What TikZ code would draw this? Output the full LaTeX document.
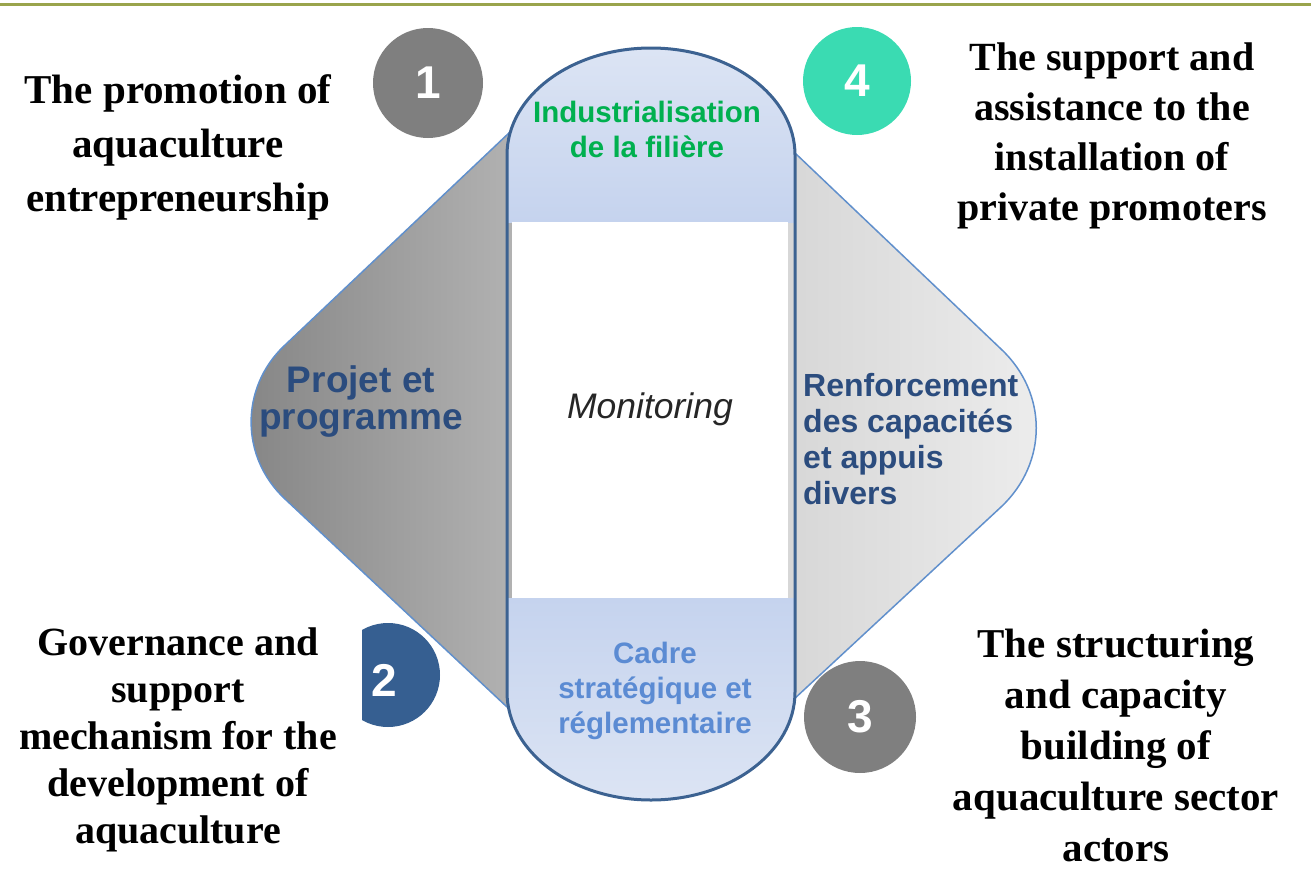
\documentclass[tikz,border=0pt]{standalone}
\usepackage{fontspec}
\setmainfont{Liberation Serif}
\newfontfamily\arialf{Liberation Sans}
\definecolor{olive}{HTML}{9AA44C}
\definecolor{numgrey}{HTML}{7F7F7F}
\definecolor{numteal}{HTML}{3ADBB2}
\definecolor{numblue}{HTML}{365F91}
\definecolor{wingline}{HTML}{6190CC}
\definecolor{capline}{HTML}{3C6291}
\definecolor{capA}{HTML}{DDE5F4}
\definecolor{capB}{HTML}{C5D3EE}
\definecolor{txtblue}{HTML}{2B4C7E}
\definecolor{txtgreen}{HTML}{00B04F}
\definecolor{txtcadre}{HTML}{5B8BD3}
\tikzset{
  numcircle/.style={circle, minimum size=#1, inner sep=0pt},
  numtext/.style={font=\arialf\bfseries\fontsize{46}{46}\selectfont, text=white},
  sertext/.style={font=\bfseries\fontsize{41}{#1}\selectfont, align=center, inner sep=0pt, anchor=base},
  wingtext/.style={font=\arialf\bfseries\fontsize{#1}{36}\selectfont, text=txtblue, inner sep=0pt, anchor=base},
  captext/.style={font=\arialf\bfseries\fontsize{29.5}{35}\selectfont, align=center, inner sep=0pt, anchor=base},
}
\begin{document}
\begin{tikzpicture}[x=1pt,y=-1pt]
\useasboundingbox (0,0) rectangle (1311,886);
% top rule
\draw[olive, line width=3pt] (0,4) -- (1311,4);
% circles
\node[numcircle=110pt, fill=numgrey] (c1) at (428,83) {};
\node[numcircle=108pt, fill=numteal] (c4) at (857,81) {};
\begin{scope}
  \clip (362,600) rectangle (460,760);
  \node[numcircle=104pt, fill=numblue] (c2) at (388,675) {};
\end{scope}
\node[numcircle=112pt, fill=numgrey] (c3) at (860,717) {};
\node[numtext] (n1) at (c1) {1};
\node[numtext] (n4) at (c4) {4};
\node[numtext] (n2) at (384,680) {2};
\node[numtext] (n3) at (c3) {3};
% left wing
\shade[left color={rgb,255:red,133;green,133;blue,133}, right color={rgb,255:red,185;green,185;blue,185}]
  (510,132) -- (284,346) .. controls (240,388) and (240,457) .. (285,499) -- (507,707) -- (560,707) -- (560,132) -- cycle;
\draw[wingline, line width=1.5pt]
  (510,132) -- (284,346) .. controls (240,388) and (240,457) .. (285,499) -- (507,707);
% right wing
\shade[left color={rgb,255:red,211;green,211;blue,211}, right color={rgb,255:red,237;green,237;blue,237}]
  (795,153) -- (1001,349) .. controls (1048,393) and (1048,463) .. (1001,507) -- (793,700) -- (740,700) -- (740,153) -- cycle;
\draw[wingline, line width=1.5pt]
  (795,153) -- (1001,349) .. controls (1048,393) and (1048,463) .. (1001,507) -- (793,700);
% capsule
\begin{scope}
  \clip (507,155) -- (507,692) arc[start angle=180, end angle=0, x radius=144, y radius=108]
        -- (795,155) arc[start angle=0, end angle=-180, x radius=144, y radius=107] -- cycle;
  \shade[top color=capA, bottom color=capB] (500,40) rectangle (800,222);
  \shade[top color=capB, bottom color=capA] (500,598) rectangle (800,810);
  \fill[white] (512,222) rectangle (788,598);
\end{scope}
\draw[capline, line width=3pt] (507,155) -- (507,692) arc[start angle=180, end angle=0, x radius=144, y radius=108]
        -- (795,155) arc[start angle=0, end angle=-180, x radius=144, y radius=107] -- cycle;
% capsule texts (anchor = baseline of last line)
\node[captext, text=txtgreen] (indus) at (647,157) {Industrialisation\\de la filière};
\node[captext, text=txtcadre] (cadre) at (655,733) {Cadre\\stratégique et\\réglementaire};
\node[font=\arialf\itshape\fontsize{35.5}{36}\selectfont, text={rgb,255:red,38;green,38;blue,38}, inner sep=0pt, anchor=base] (moni) at (650,418) {Monitoring};
% wing texts
\node[font=\arialf\bfseries\fontsize{37}{37}\selectfont, text=txtblue, inner sep=0pt, anchor=base, align=center] (projet) at (361,429) {Projet et\\programme};
\node[wingtext=32, align=left, anchor=base west] (renf) at (803,504) {Renforcement\\des capacités\\et appuis\\divers};
% outer texts
\node[sertext=54] (tl) at (178,211) {The promotion of\\aquaculture\\entrepreneurship};
\node[sertext=50, font=\bfseries\fontsize{40}{50}\selectfont] (tr) at (1112,220) {The support and\\assistance to the\\installation of\\private promoters};
\node[sertext=47, font=\bfseries\fontsize{40}{47}\selectfont] (bl) at (178,843) {Governance and\\support\\mechanism for the\\development of\\aquaculture};
\node[sertext=51] (br) at (1116,861) {The structuring\\and capacity\\building of\\aquaculture sector\\actors};
\end{tikzpicture}
\end{document}
